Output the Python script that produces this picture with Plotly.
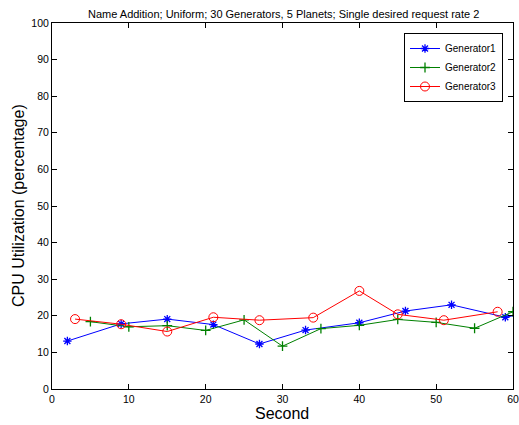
import plotly.graph_objects as go

gen1_x = [2, 9, 15, 21, 27, 33, 40, 46, 52, 59, 65]
gen1_y = [13.1, 17.8, 19.1, 17.6, 12.3, 16.1, 18.1, 21.3, 23.0, 19.6, 22.0]
gen2_x = [5, 10, 15, 20, 25, 30, 35, 40, 45, 50, 55, 60]
gen2_y = [18.4, 17.0, 17.3, 16.0, 18.9, 11.7, 16.5, 17.4, 19.0, 18.2, 16.6, 21.1]
gen3_x = [3, 9, 15, 21, 27, 34, 40, 45, 51, 58]
gen3_y = [19.1, 17.7, 15.7, 19.6, 18.8, 19.5, 26.8, 20.4, 18.8, 21.1]

x_ticks = [0, 10, 20, 30, 40, 50, 60]
y_ticks = [0, 10, 20, 30, 40, 50, 60, 70, 80, 90, 100]

font = "Liberation Sans, Arial, sans-serif"

fig = go.Figure()
fig.add_trace(go.Scatter(x=gen1_x, y=gen1_y, name="Generator1", mode="lines+markers",
                         line=dict(color="#0000FF", width=1),
                         marker=dict(symbol="asterisk-open", size=7, color="#0000FF",
                                     line=dict(color="#0000FF", width=1.3))))
fig.add_trace(go.Scatter(x=gen2_x, y=gen2_y, name="Generator2", mode="lines+markers",
                         line=dict(color="#008000", width=1),
                         marker=dict(symbol="cross-thin-open", size=7, color="#008000",
                                     line=dict(color="#008000", width=1.3))))
fig.add_trace(go.Scatter(x=gen3_x, y=gen3_y, name="Generator3", mode="lines+markers",
                         line=dict(color="#FF0000", width=1),
                         marker=dict(symbol="circle-open", size=9, color="#FF0000",
                                     line=dict(color="#FF0000", width=1))))

axis_common = dict(showgrid=False, zeroline=False, showline=True, linecolor="black",
                   linewidth=1, mirror="ticks", ticks="inside", ticklen=5, automargin=False,
                   tickcolor="black", tickfont=dict(family=font, size=10.5, color="black"))

W, H = 519, 425
l, r, t, b = 52, 6, 23, 36
pw, ph = W - l - r, H - t - b


def px(xp):
    return (xp - l) / pw


def py(yp):
    return (H - b - yp) / ph


fig.update_layout(
    width=W, height=H,
    margin=dict(l=l, r=r, t=t, b=b, autoexpand=False),
    paper_bgcolor="white", plot_bgcolor="white",
    xaxis=dict(range=[0, 60], tickvals=x_ticks, **axis_common),
    yaxis=dict(range=[0, 100], tickvals=y_ticks, **axis_common),
    legend=dict(x=px(503), y=py(33), xanchor="right", yanchor="top",
                bgcolor="white", bordercolor="black", borderwidth=1,
                font=dict(family=font, size=10, color="black"),
                tracegroupgap=0, itemwidth=30),
    showlegend=True,
)
fig.add_annotation(text="Name Addition; Uniform; 30 Generators, 5 Planets; Single desired request rate 2",
                   x=px(283), y=py(14), xref="paper", yref="paper", showarrow=False,
                   xanchor="center", yanchor="middle",
                   font=dict(family=font, size=11, color="black"))
fig.add_annotation(text="Second", x=px(282), y=py(413), xref="paper", yref="paper",
                   showarrow=False, xanchor="center", yanchor="middle",
                   font=dict(family=font, size=16, color="black"))
fig.add_annotation(text="CPU Utilization (percentage)", x=px(18), y=py(206), xref="paper", yref="paper",
                   showarrow=False, xanchor="center", yanchor="middle", textangle=-90,
                   font=dict(family=font, size=16, color="black"))

fig.write_html("out.html", config={"displayModeBar": False},
               post_script="document.body.style.margin='0px';document.body.style.padding='0px';")
